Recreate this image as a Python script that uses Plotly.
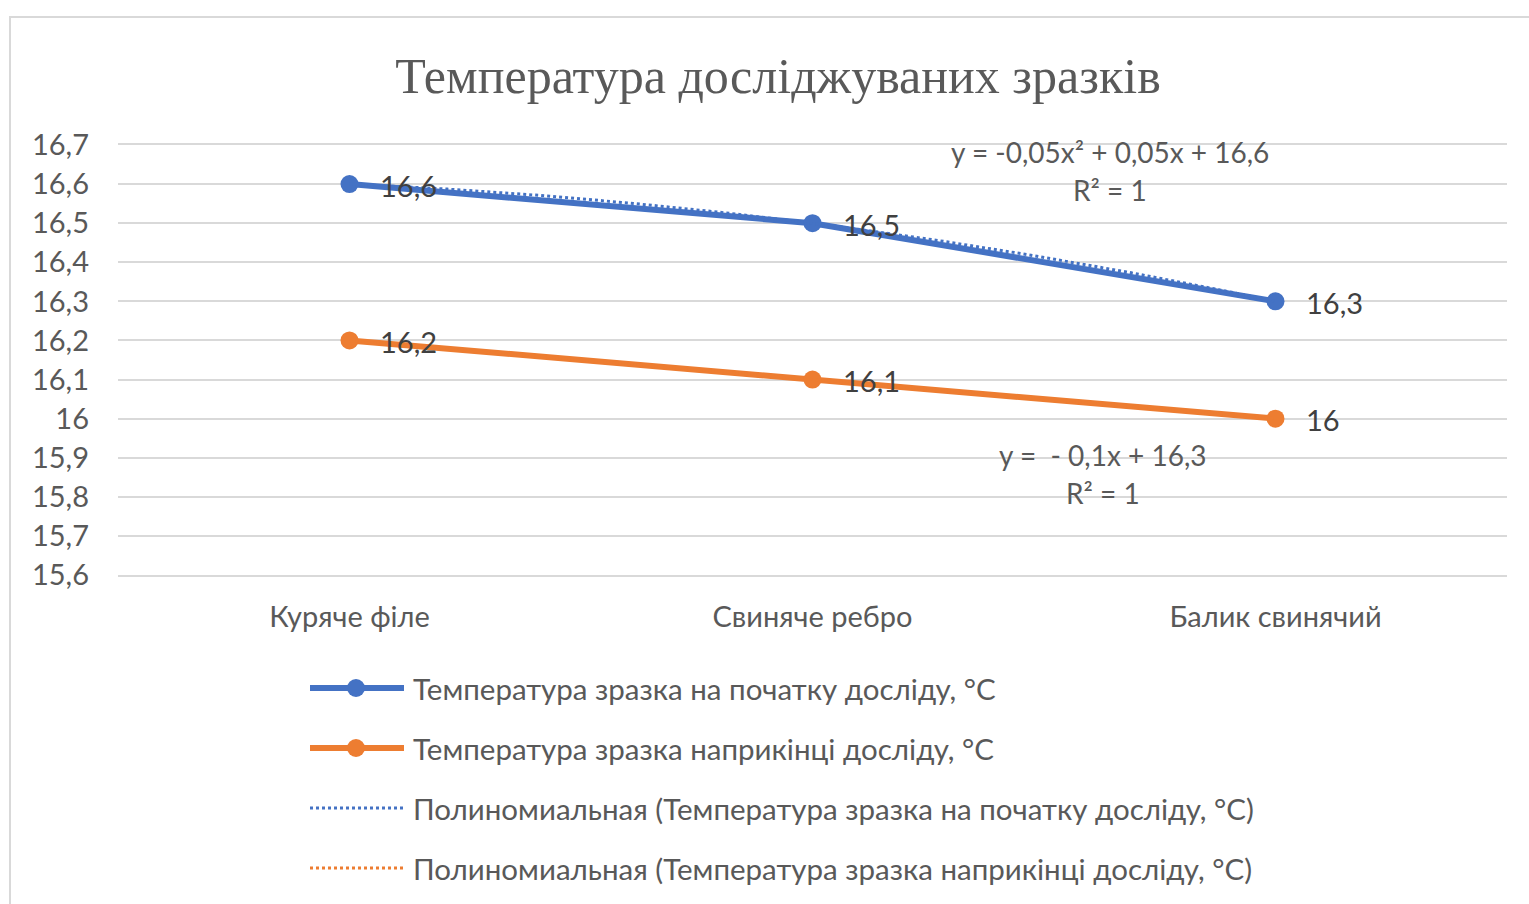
import numpy as np
import plotly.graph_objects as go

# ---- data ----
categories = ["Куряче філе", "Свиняче ребро", "Балик свинячий"]
temp_start = [16.6, 16.5, 16.3]
temp_end = [16.2, 16.1, 16.0]
series_names = [
    "Температура зразка на початку досліду, °С",
    "Температура зразка наприкінці досліду, °С",
]
trend_names = [
    "Полиномиальная (Температура зразка на початку досліду, °С)",
    "Полиномиальная (Температура зразка наприкінці досліду, °С)",
]
eq_start = ["y = -0,05x² + 0,05x + 16,6", "R² = 1"]
eq_end = ["y =  - 0,1x + 16,3", "R² = 1"]

BLUE = "#4472C4"
ORANGE = "#ED7D31"
TXT = "#595959"
GRID = "#D9D9D9"
FONT = "Lato, 'Open Sans', sans-serif"
FS = 29

W, H = 1529, 904
L, R, T, B = 118, 22, 145, 329
PW, PH = W - L - R, H - T - B


def px(x):
    return (x - L) / PW


def py(y):
    return (H - B - y) / PH


xs = np.arange(len(categories))
fig = go.Figure()

# trend lines (Excel numbers the categories 1..n)
xfine = np.linspace(0, len(categories) - 1, 200)
fit_start = np.polyfit(xs + 1, temp_start, 2)
fit_end = np.polyfit(xs + 1, temp_end, 1)

for vals, color, name in [(temp_end, ORANGE, series_names[1]), (temp_start, BLUE, series_names[0])]:
    fig.add_trace(go.Scatter(
        x=xs, y=vals, mode="lines+markers", name=name,
        line=dict(color=color, width=6),
        marker=dict(color=color, size=18),
        showlegend=False, cliponaxis=False,
    ))

fig.add_trace(go.Scatter(
    x=xfine, y=np.polyval(fit_end, xfine + 1), mode="lines", name=trend_names[1],
    line=dict(color=ORANGE, width=3, dash="dot"), showlegend=False,
))
fig.add_trace(go.Scatter(
    x=xfine, y=np.polyval(fit_start, xfine + 1), mode="lines", name=trend_names[0],
    line=dict(color=BLUE, width=3, dash="dot"), showlegend=False,
))

# data labels
for vals in (temp_start, temp_end):
    for xi, v in zip(xs, vals):
        fig.add_annotation(
            x=xi, y=v, text=f"{v:g}".replace(".", ","), showarrow=False,
            xanchor="left", yanchor="middle", xshift=28, yshift=-1,
            font=dict(family=FONT, size=FS, color="#404040"),
        )

# trend equations
for i, t in enumerate(eq_start):
    fig.add_annotation(
        x=px(1110), y=py(152 + 38 * i), xref="paper", yref="paper", text=t,
        showarrow=False, xanchor="center", yanchor="middle",
        font=dict(family=FONT, size=28, color=TXT),
    )
for i, t in enumerate(eq_end):
    fig.add_annotation(
        x=px(1103), y=py(455 + 38 * i), xref="paper", yref="paper", text=t,
        showarrow=False, xanchor="center", yanchor="middle",
        font=dict(family=FONT, size=28, color=TXT),
    )

# legend drawn below the plot
legend_rows = [
    (series_names[0], BLUE, True),
    (series_names[1], ORANGE, True),
    (trend_names[0], BLUE, False),
    (trend_names[1], ORANGE, False),
]
for k, (name, color, solid) in enumerate(legend_rows):
    yy = 688 + 60 * k
    fig.add_shape(
        type="line", xref="paper", yref="paper",
        x0=px(310), x1=px(404), y0=py(yy), y1=py(yy),
        line=dict(color=color, width=6 if solid else 3, dash="solid" if solid else "dot"),
    )
    if solid:
        fig.add_shape(
            type="circle", xref="paper", yref="paper",
            x0=px(356 - 9), x1=px(356 + 9), y0=py(yy - 9), y1=py(yy + 9),
            fillcolor=color, line=dict(color=color, width=0),
        )
    fig.add_annotation(
        x=px(411), y=py(yy), xref="paper", yref="paper", text=name,
        showarrow=False, xanchor="left", yanchor="middle",
        font=dict(family=FONT, size=29.5, color=TXT),
    )

# chart frame
fig.add_shape(
    type="rect", xref="paper", yref="paper",
    x0=px(10), x1=px(1545), y0=py(17), y1=py(920),
    line=dict(color="#D9D9D9", width=2), layer="below",
)

fig.update_layout(
    width=W, height=H,
    margin=dict(l=L, r=R, t=T, b=B),
    paper_bgcolor="white", plot_bgcolor="white",
    separators=", ",
    title=dict(
        text="Температура досліджуваних зразків",
        x=778 / W, xref="container", xanchor="center",
        y=1 - 75 / H, yref="container", yanchor="middle",
        font=dict(family="'Liberation Serif', 'DejaVu Serif', serif", size=50, color=TXT),
    ),
    xaxis=dict(
        range=[-0.5, len(categories) - 0.5],
        tickmode="array", tickvals=xs, ticktext=categories,
        showgrid=False, zeroline=False, ticks="",
        # bottom (15,6) and top (16,7) grid lines
        showline=True, linecolor=GRID, linewidth=2, mirror=True,
        ticklabelstandoff=15,
        tickfont=dict(family=FONT, size=FS, color=TXT),
    ),
    yaxis=dict(
        range=[15.6, 16.7], dtick=0.1, tick0=15.6,
        showgrid=True, gridcolor=GRID, gridwidth=2,
        zeroline=False, showline=False, ticks="",
        ticklabelstandoff=28,
        tickfont=dict(family=FONT, size=FS, color=TXT),
    ),
    showlegend=False,
)

fig.write_html("out.html")
